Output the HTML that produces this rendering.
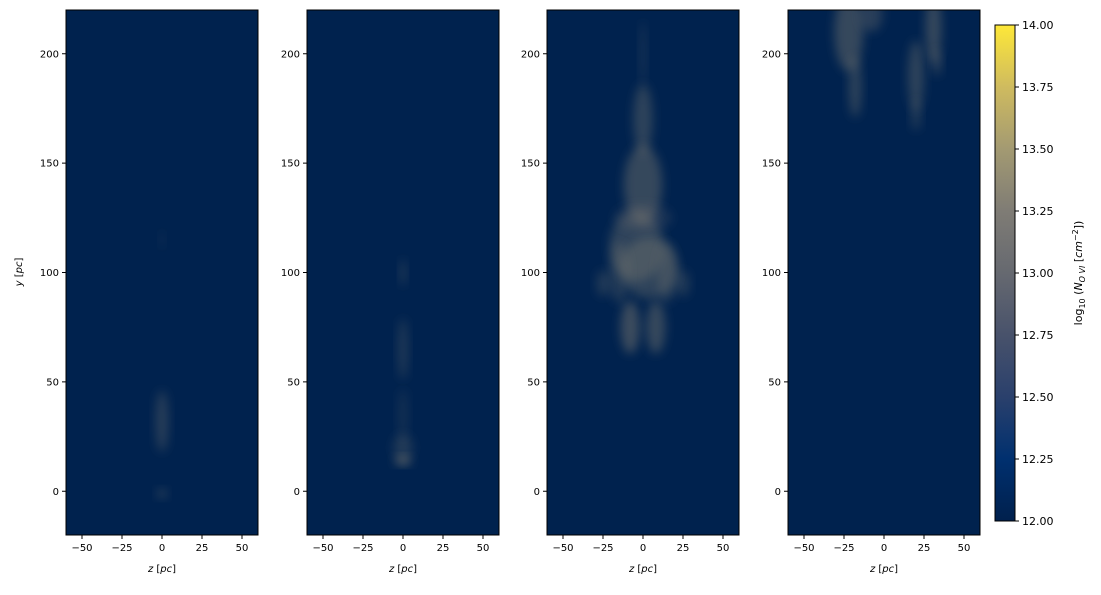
<!DOCTYPE html>
<html><head><meta charset="utf-8"><style>
body{margin:0;background:#fff;font-family:"Liberation Sans","DejaVu Sans",sans-serif}
svg text{font-family:"DejaVu Sans","Liberation Sans",sans-serif;font-size:10px;fill:#000}
</style></head><body>
<svg id="fig" width="1101" height="590" xmlns="http://www.w3.org/2000/svg">
<defs>
<filter id="b1" x="-50%" y="-50%" width="200%" height="200%"><feGaussianBlur stdDeviation="5"/></filter>
<linearGradient id="cmap" x1="0" y1="1" x2="0" y2="0">
<stop offset="0" stop-color="#00204d"/><stop offset="0.125" stop-color="#00306f"/>
<stop offset="0.25" stop-color="#2a406c"/><stop offset="0.375" stop-color="#48526b"/>
<stop offset="0.5" stop-color="#666970"/><stop offset="0.625" stop-color="#7f7c75"/>
<stop offset="0.75" stop-color="#a39a72"/><stop offset="0.875" stop-color="#cfbb5f"/>
<stop offset="1" stop-color="#fee838"/></linearGradient>
</defs>
</svg>
<script>
const xTicks=[-50,-25,0,25,50];
const yTicks=[0,50,100,150,200];
const cbTicks=[12.00,12.25,12.50,12.75,13.00,13.25,13.50,13.75,14.00];
// emission blobs per panel: [z, y, halfwidth, halfheight, opacity]
const blobs1=[[0,32,4,14,0.3],[0,115,1.5,4,0.12],[0,-1,3,2,0.35]];
const blobs2=[[0,100,2,6,0.25],[0,65,3,14,0.25],[0,35,3,12,0.15],[0,20,6,6,0.25],[0,14,5,2,0.6]];
const blobs3=[[0,200,2,15,0.18],[0,170,6,16,0.35],[0,140,12,18,0.4],[-4,112,17,16,0.35],[4,102,18,14,0.35],[-8,75,6,12,0.45],[8,75,6,12,0.4],[-25,95,4,6,0.25],[25,95,4,6,0.25],[0,125,18,6,0.2],[-15,100,6,14,0.25],[15,100,6,14,0.25]];
const blobs4=[[-22,210,9,18,0.4],[-18,185,4,14,0.35],[-8,218,7,8,0.3],[20,190,5,16,0.35],[20,172,3,7,0.25],[31,212,5,16,0.4],[33,196,3,6,0.3]];
const allBlobs=[blobs1,blobs2,blobs3,blobs4];
const panelX=[66,307,547,788];
const W=192,TOP=10,BOT=535;
const NS="http://www.w3.org/2000/svg";
const svg=document.getElementById('fig');
function el(t,a,p){const e=document.createElementNS(NS,t);for(const k in a)e.setAttribute(k,a[k]);(p||svg).appendChild(e);return e;}
const sy=v=>TOP+(220-v)*(BOT-TOP)/240;
for(let i=0;i<4;i++){
  const x0=panelX[i];const sx=v=>x0+(v+60)*W/120;
  const g=el('g',{});
  
  
  el('rect',{x:x0,y:TOP,width:W,height:BOT-TOP,fill:'#00224e'},g);
  const cp=el('clipPath',{id:'cp'+i},g);el('rect',{x:x0,y:TOP,width:W,height:BOT-TOP},cp);
  const bg=el('g',{'clip-path':'url(#cp'+i+')'},g);
  allBlobs[i].forEach(b=>{
    const e=el('ellipse',{cx:sx(b[0]),cy:sy(b[1]),rx:b[2]*W/120,ry:b[3]*(BOT-TOP)/240,fill:'#857f72','fill-opacity':b[4],filter:'url(#b1)'},bg);
    
    
  });
  el('rect',{x:x0,y:TOP,width:W,height:BOT-TOP,fill:'none',stroke:'#000','stroke-width':1},g);
  xTicks.forEach(t=>{el('line',{x1:sx(t),x2:sx(t),y1:BOT,y2:BOT+4,stroke:'#000'},g);
    const tx=el('text',{x:sx(t),y:BOT+16,'text-anchor':'middle'},g);tx.textContent=(t<0?'\u2212'+(-t):t);});
  yTicks.forEach(t=>{el('line',{x1:x0-4,x2:x0,y1:sy(t),y2:sy(t),stroke:'#000'},g);
    const tx=el('text',{x:x0-7,y:sy(t)+3.5,'text-anchor':'end'},g);tx.textContent=t;});
  const xl=el('text',{x:x0+W/2,y:572,'text-anchor':'middle'},g);
  
  
  xl.innerHTML='<tspan font-style="italic">z</tspan> [<tspan font-style="italic">pc</tspan>]';
}
const yl=el('text',{x:22,y:272,'text-anchor':'middle',transform:'rotate(-90 22 272)'});


yl.innerHTML='<tspan font-style="italic">y</tspan> [<tspan font-style="italic">pc</tspan>]';
const cb=el('g',{});


const cT=25,cB=521,cX=995,cW=20;
el('rect',{x:cX,y:cT,width:cW,height:cB-cT,fill:'url(#cmap)',stroke:'#000'},cb);
const cyf=v=>cB-(v-12)/2*(cB-cT);
cbTicks.forEach(t=>{el('line',{x1:cX+cW,x2:cX+cW+4,y1:cyf(t),y2:cyf(t),stroke:'#000'},cb);
  const tx=el('text',{x:cX+cW+7,y:cyf(t)+4},cb);tx.setAttribute('style','font-size:11px');tx.textContent=t.toFixed(2);});
const cl=el('text',{x:1082,y:273,'text-anchor':'middle',transform:'rotate(-90 1082 273)'},cb);
cl.setAttribute('style','font-size:11px');


cl.innerHTML='log<tspan font-size="8" dy="3">10</tspan><tspan dy="-3"> (</tspan><tspan font-style="italic">N</tspan><tspan font-size="8" dy="3" font-style="italic">O VI</tspan><tspan dy="-3"> [</tspan><tspan font-style="italic">cm</tspan><tspan font-size="8" dy="-4">−2</tspan><tspan dy="4">])</tspan>';
</script>
</body></html>
